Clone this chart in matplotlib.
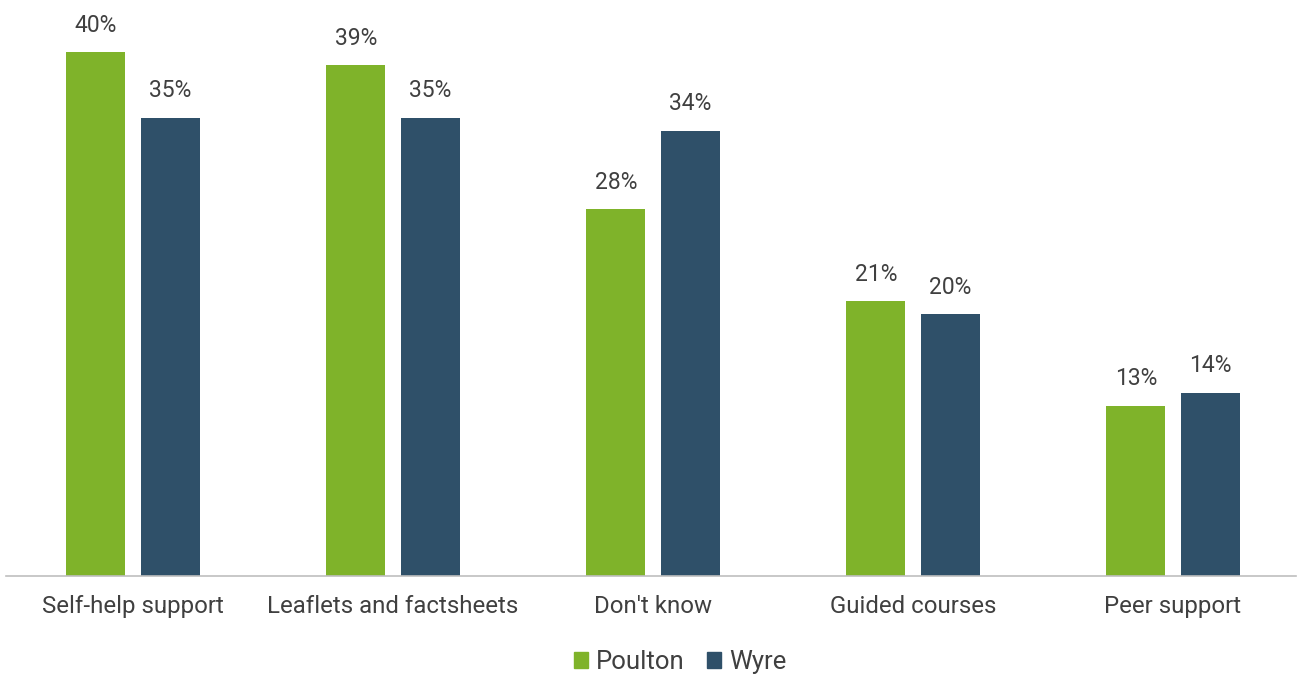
import matplotlib
matplotlib.use("Agg")
import matplotlib.pyplot as plt
import numpy as np
from matplotlib.patches import Patch

categories = ["Self-help support", "Leaflets and factsheets", "Don't know",
              "Guided courses", "Peer support"]
poulton = [40, 39, 28, 21, 13]
wyre = [35, 35, 34, 20, 14]
series_names = ["Poulton", "Wyre"]

GREEN = "#7FB32A"
BLUE = "#2F5069"
TEXT = "#404040"

plt.rcParams["font.family"] = ["Roboto", "DejaVu Sans"]

fig = plt.figure(figsize=(13.04, 6.76), dpi=100)
ax = fig.add_axes([6 / 1304, 1 - 576 / 676, 1290 / 1304, 566 / 676])

x = np.arange(len(categories))
w = 0.228
off = 0.143
b1 = ax.bar(x - off, poulton, w, color=GREEN)
b2 = ax.bar(x + off, wyre, w, color=BLUE)

for bars, vals in ((b1, poulton), (b2, wyre)):
    for rect, v in zip(bars, vals):
        ax.annotate(f"{v}%", (rect.get_x() + rect.get_width() / 2, v),
                    xytext=(0, 11), textcoords="offset points",
                    ha="center", va="bottom", fontsize=16.5, color=TEXT)

ax.set_xlim(-127 / 260, -127 / 260 + 1290 / 260)
ax.set_ylim(0, 566 / 13.1)
ax.set_xticks(x)
ax.set_xticklabels(categories, fontsize=17.3, color=TEXT)
ax.tick_params(axis="x", length=0, pad=14)
ax.set_yticks([])
for s in ("top", "right", "left"):
    ax.spines[s].set_visible(False)
ax.spines["bottom"].set_color("#BFBFBF")
ax.spines["bottom"].set_linewidth(1.2)

handles = [Patch(color=GREEN), Patch(color=BLUE)]
fig.legend(handles, series_names, loc="center",
           bbox_to_anchor=(0.5 + 28 / 1304, 1 - 662 / 676),
           ncol=2, frameon=False, handlelength=0.55, handleheight=0.55,
           handletextpad=0.3, columnspacing=0.9, labelcolor=TEXT,
           prop={"size": 18.5})

fig.savefig("out.png", dpi=100)
